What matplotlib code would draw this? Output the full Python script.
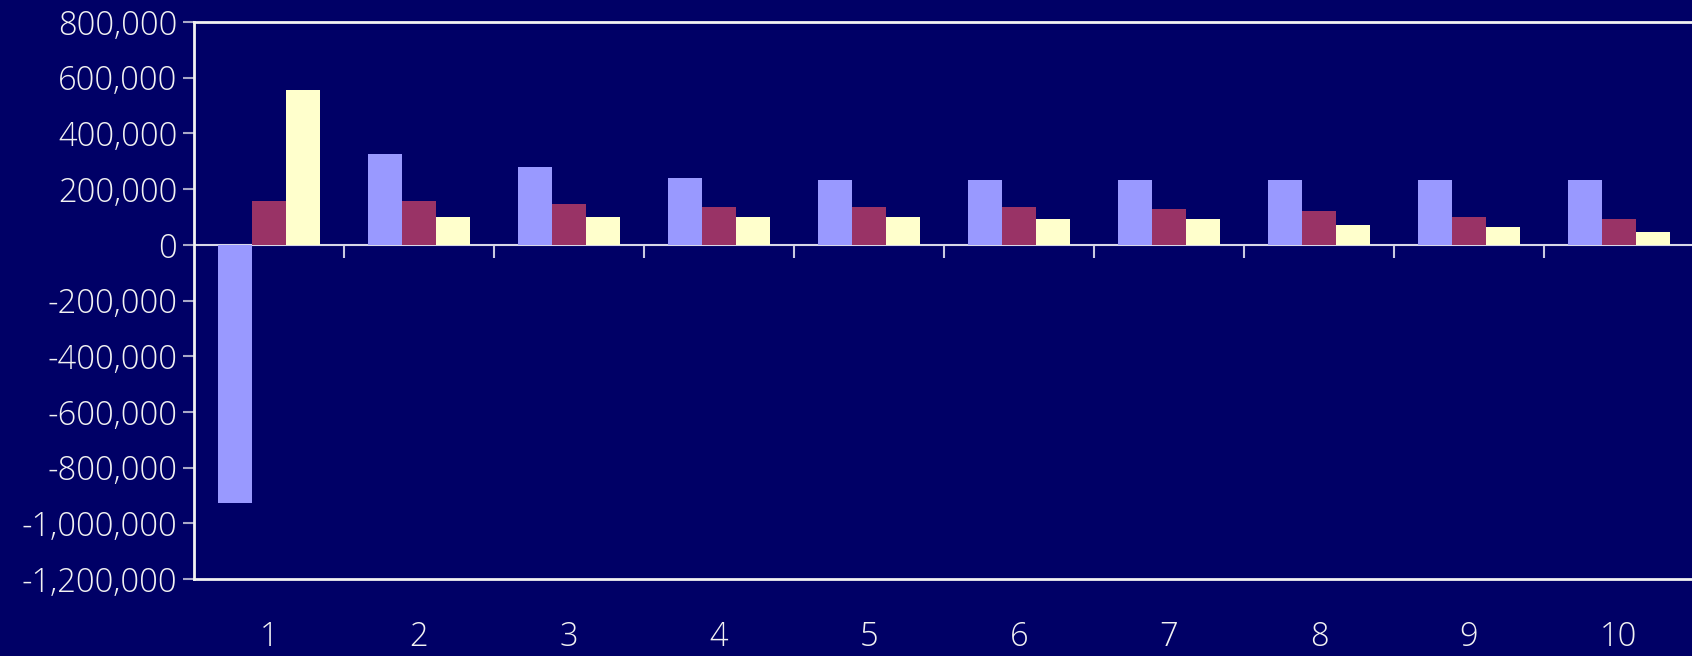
import numpy as np
import matplotlib.pyplot as plt
from matplotlib.ticker import FuncFormatter

plt.rcParams['font.family'] = ['Open Sans', 'DejaVu Sans']
plt.rcParams['font.weight'] = 'light'

# data
periods = ['1', '2', '3', '4', '5', '6', '7', '8', '9', '10']
series_a = [-926000, 326000, 279000, 240000, 233000, 233000, 233000, 233000, 233000, 233000]
series_b = [157000, 157000, 146500, 136000, 136000, 136000, 128500, 121000, 100000, 93000]
series_c = [556000, 100000, 100000, 100000, 100000, 93000, 93000, 71000, 64000, 46000]

bg = '#000066'
fg = '#f2f2f2'
ymin, ymax = -1200000, 800000

fig = plt.figure(figsize=(16.92, 6.56), dpi=100, facecolor=bg)
ax = fig.add_axes([194/1692, 77/656, 1500/1692, 557/656], facecolor=bg)

x = np.arange(1, len(periods) + 1)
w = 0.227
ax.bar(x - w, series_a, w, color='#9999ff', zorder=2)
ax.bar(x, series_b, w, color='#993366', zorder=2)
ax.bar(x + w, series_c, w, color='#ffffcc', zorder=2)

ax.set_xlim(0.5, len(periods) + 0.5)
ax.set_ylim(ymin, ymax)
ax.set_yticks(np.arange(ymin, ymax + 1, 200000))
ax.yaxis.set_major_formatter(FuncFormatter(lambda v, p: f'{int(v):,}'))
ax.tick_params(axis='y', direction='out', length=8, width=1.5, color='#a8a8c8',
               labelsize=23.5, labelcolor=fg, pad=4)

ax.set_xticks(x)
ax.set_xticklabels(periods)
ax.tick_params(axis='x', length=0, labelsize=23.5, labelcolor=fg, pad=30)

for s in ['left', 'top', 'bottom']:
    ax.spines[s].set_color(fg)
    ax.spines[s].set_linewidth(2)
ax.spines['right'].set_visible(False)

# zero line with category separators
zero = ax.secondary_xaxis((0 - ymin) / (ymax - ymin))
zero.set_xticks(np.arange(1.5, len(periods), 1.0))
zero.set_xticklabels([])
zero.tick_params(direction='in', length=9, width=1.5, color='#c8c8e0')
for s in zero.spines.values():
    s.set_color('#d8d8e8')
    s.set_linewidth(1.5)
    s.set_zorder(3)

fig.savefig('out.png', dpi=100, facecolor=bg)
